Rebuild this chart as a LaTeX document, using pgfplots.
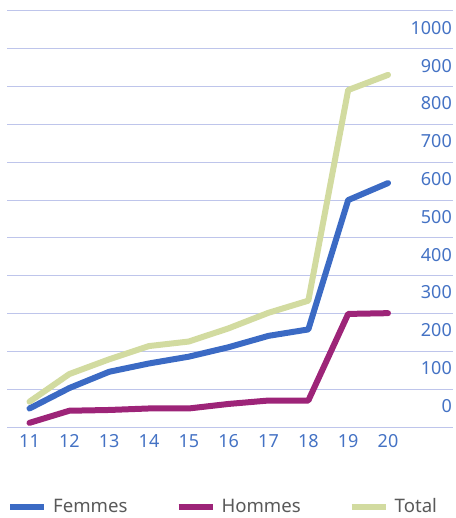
\documentclass[border=0pt]{standalone}
\usepackage{fontspec}
\setmainfont{Noto Sans}
\usepackage{pgfplots}
\pgfplotsset{compat=1.18}

\definecolor{femmes}{RGB}{59,106,196}
\definecolor{hommes}{RGB}{157,36,120}
\definecolor{total}{RGB}{210,219,160}
\definecolor{ticktext}{RGB}{68,114,196}
\definecolor{gridc}{RGB}{190,197,235}
\definecolor{legtext}{RGB}{89,89,89}

\begin{document}
\begin{tikzpicture}
\begin{axis}[
    scale only axis,
    width=446pt, height=416pt,
    xmin=10.435, xmax=21.632,
    ymin=0, ymax=1100,
    axis line style={draw=none},
    major tick length=0pt,
    xtick={11,...,20},
    ytick={0,100,...,1100},
    yticklabels={0,100,200,300,400,500,600,700,800,900,1000,{}},
    ymajorgrids,
    grid style={gridc, line width=1pt},
    yticklabel pos=right,
    tick label style={text=ticktext, font=\fontsize{18}{18}\selectfont, inner sep=0pt},
    yticklabel style={anchor=east, xshift=-1pt, yshift=21pt},
    xticklabel style={anchor=north, yshift=-7.5pt},
    /pgf/number format/assume math mode=true,
    /pgf/number format/1000 sep={},
    legend columns=3,
    legend image code/.code={\draw[#1, line cap=butt] (0pt,0pt) -- (34pt,0pt);},
    legend style={
        at={(rel axis cs:0,0)}, anchor=west, yshift=-79.5pt,
        draw=none, fill=none, inner sep=0pt,
        font=\fontsize{18.6}{19}\selectfont, text=legtext,
        nodes={inner sep=0pt},
        /tikz/every odd column/.append style={column sep=6pt},
        /tikz/every even column/.append style={column sep=48pt},
    },
    legend cell align=left,
    every axis plot/.append style={line width=6pt, line cap=round, line join=round},
]
\coordinate (sw) at (rel axis cs:0,0);

\addplot[femmes] coordinates {
    (11,49) (12,103) (13,146) (14,168) (15,186)
    (16,211) (17,241) (18,258) (19,600) (20,645)
};
\addlegendentry{Femmes}

\addplot[hommes] coordinates {
    (11,11) (12,43) (13,45) (14,49) (15,49)
    (16,61) (17,70) (18,70) (19,299) (20,301)
};
\addlegendentry{Hommes}

\addplot[total] coordinates {
    (11,67) (12,140) (13,179) (14,214) (15,226)
    (16,261) (17,302) (18,334) (19,891) (20,931)
};
\addlegendentry{Total}
\end{axis}
\pgfresetboundingbox
\path (sw) ++(-7pt,-91pt) rectangle ++(455pt,518pt);
\end{tikzpicture}
\end{document}
